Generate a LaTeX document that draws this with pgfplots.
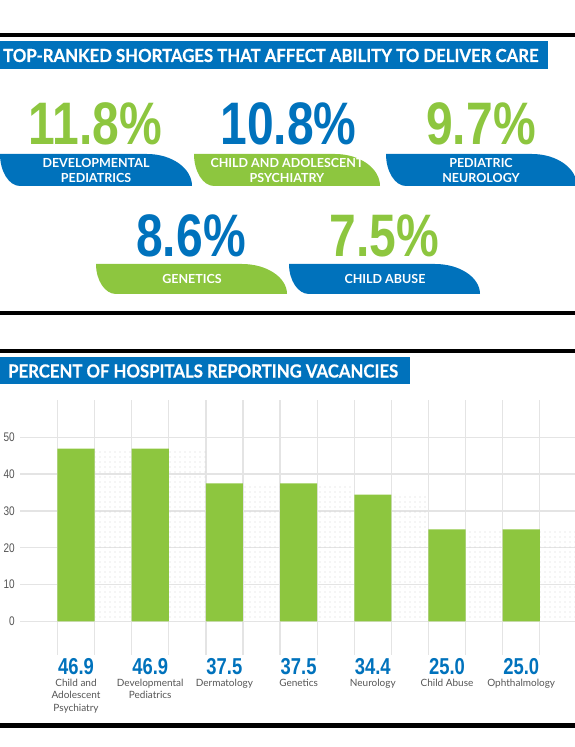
\documentclass[border=0pt]{standalone}
\usepackage{fontspec}
\usepackage{pgfplots}
\pgfplotsset{compat=1.18}
\usetikzlibrary{patterns.meta}
\setmainfont{Lato}
\newfontfamily\numfont[FakeStretch=0.8]{Liberation Sans}
\newfontfamily\titlefont[FakeStretch=0.93, BoldFeatures={FakeBold=0.6}]{Lato}
\definecolor{bblue}{HTML}{0072BC}
\definecolor{bgreen}{HTML}{8DC63F}
\definecolor{gridc}{HTML}{E4E4E4}
\definecolor{dotc}{HTML}{D4D4D4}
\definecolor{labc}{HTML}{555555}
\newcommand\valfont{\numfont\bfseries\fontsize{23}{23}\selectfont\color{bblue}}
\newcommand\bignum{\numfont\bfseries\fontsize{60}{60}\selectfont}
\newcommand\pillfont{\bfseries\fontsize{12.5}{15}\selectfont}
% leaf-shaped label: x0, x1, y0, y1, colour
\newcommand\leaf[5]{%
  \fill[#5] (#1,#3) -- ({#2-45},#3) .. controls ({#2-20},#3) and (#2,{#4-0.55*(#4-#3)}) .. (#2,#4)
    -- ({#1+20},#4) .. controls ({#1+9},#4) and (#1,{#3+0.55*(#4-#3)}) .. (#1,#3) -- cycle;}
\begin{document}
\begin{tikzpicture}
\useasboundingbox (0,0) rectangle (575pt,747pt);
\begin{scope}[x=1pt,y=-1pt,yshift=747pt]
  % rules
  \fill[black] (0,33) rectangle (575,37.5);
  \fill[black] (0,310.7) rectangle (575,315);
  \fill[black] (0,349) rectangle (575,353.3);
  \fill[black] (0,722.7) rectangle (575,727.8);
  % title bars
  \fill[bblue] (0,41) rectangle (548,69);
  \node[anchor=west, text=white, inner sep=0pt, font=\titlefont\bfseries\fontsize{18}{18}\selectfont] at (3,55.5) {TOP-RANKED SHORTAGES THAT AFFECT ABILITY TO DELIVER CARE};
  \fill[bblue] (0,357) rectangle (410,384);
  \node[anchor=west, text=white, inner sep=0pt, font=\titlefont\bfseries\fontsize{18}{18}\selectfont] at (8,371) {PERCENT OF HOSPITALS REPORTING VACANCIES};
  % leaves row 1
  \leaf{0}{192}{154}{186}{bblue}
  \leaf{194}{380}{154}{186}{bgreen}
  \leaf{386}{577}{154}{186}{bblue}
  % leaves row 2
  \leaf{96}{287}{264}{294}{bgreen}
  \leaf{289}{480}{264}{294}{bblue}
  % pill texts
  \node[text=white, align=center, font=\pillfont, inner sep=0pt] at (96,170) {DEVELOPMENTAL\\PEDIATRICS};
  \node[text=white, align=center, font=\pillfont, inner sep=0pt] at (287,170) {CHILD AND ADOLESCENT\\PSYCHIATRY};
  \node[text=white, align=center, font=\pillfont, inner sep=0pt] at (481,170) {PEDIATRIC\\NEUROLOGY};
  \node[text=white, align=center, font=\pillfont, inner sep=0pt] at (192,279) {GENETICS};
  \node[text=white, align=center, font=\pillfont, inner sep=0pt] at (385,279) {CHILD ABUSE};
  % big numbers
  \node[anchor=base, inner sep=0pt, text=bgreen, font=\bignum] at (95,145) {11.8\%};
  \node[anchor=base, inner sep=0pt, text=bblue, font=\bignum] at (288.5,145) {10.8\%};
  \node[anchor=base, inner sep=0pt, text=bgreen, font=\bignum] at (481,145) {9.7\%};
  \node[anchor=base, inner sep=0pt, text=bblue, font=\bignum] at (191,257) {8.6\%};
  \node[anchor=base, inner sep=0pt, text=bgreen, font=\bignum] at (384.5,257) {7.5\%};
\end{scope}
\begin{axis}[
  at={(20pt,92pt)}, anchor=south west,
  x=74.2pt, y=3.68pt,
  xmin=-0.7547, xmax=6.725, ymin=-9.158, ymax=60.14,
  axis line style={draw=none},
  major tick length=0pt,
  ytick={0,10,...,50}, ymajorgrids=true,
  xtick={0,1,2,3,4,5,6}, xmajorgrids=false,
  extra x ticks={-0.25,0.25,0.75,1.25,1.75,2.25,2.75,3.25,3.75,4.25,4.75,5.25,5.75,6.25},
  extra x tick labels={},
  extra x tick style={xmajorgrids=true, major tick length=0pt},
  grid style={gridc, line width=1.3pt},
  /pgf/number format/assume math mode=true,
  yticklabel style={font=\numfont\fontsize{12.5}{12.5}\selectfont, text=labc, anchor=east, inner sep=0pt, xshift=-5pt},
  xticklabel style={align=center, anchor=north, inner sep=0pt, yshift=-3pt, text=labc, font=\fontsize{10}{12.3}\selectfont},
  xticklabels={
    {{\valfont 46.9}\\Child and\\Adolescent\\Psychiatry},
    {{\valfont 46.9}\\Developmental\\Pediatrics},
    {{\valfont 37.5}\\Dermatology},
    {{\valfont 37.5}\\Genetics},
    {{\valfont 34.4}\\Neurology},
    {{\valfont 25.0}\\Child Abuse},
    {{\valfont 25.0}\\Ophthalmology}},
]
\addplot[ybar, bar width=0.5, bar shift=0.5, draw=none, pattern={Dots[distance=5pt, radius=0.6pt]}, pattern color=dotc]
  coordinates {(0,46.9) (1,46.9) (2,37.5) (3,37.5) (4,34.4) (5,25.0) (6,25.0)};
\addplot[ybar, bar width=0.5, bar shift=0, fill=bgreen, draw=none]
  coordinates {(0,46.9) (1,46.9) (2,37.5) (3,37.5) (4,34.4) (5,25.0) (6,25.0)};
\end{axis}
\end{tikzpicture}
\end{document}
